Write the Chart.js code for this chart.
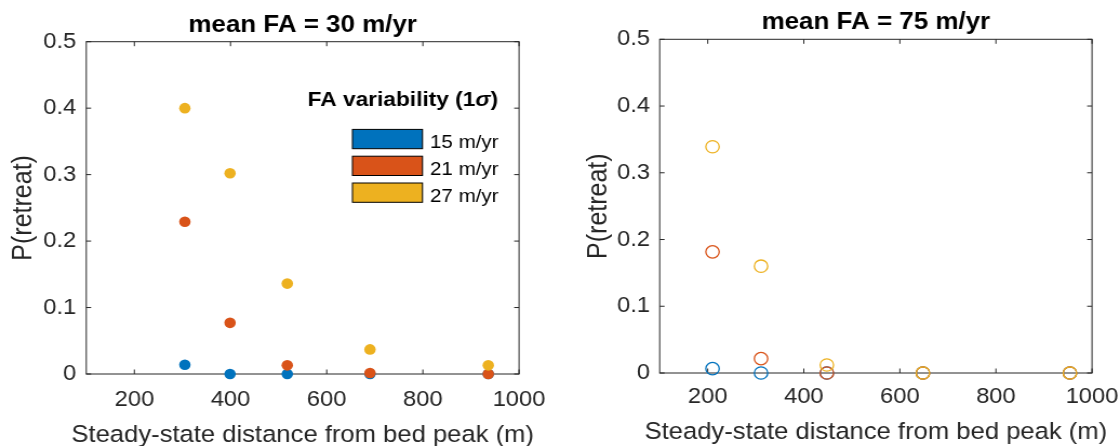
<!DOCTYPE html>
<html><head><meta charset="utf-8">
<script src="https://cdn.jsdelivr.net/npm/chart.js@4.4.1/dist/chart.umd.min.js"></script>
<style>
html,body{margin:0;padding:0;background:#fff;}
body{width:1120px;height:446px;position:relative;overflow:hidden;}
.panel{position:absolute;top:0;width:518px;height:446px;transform:scaleX(1.0811);transform-origin:0 0;}
</style></head><body>
<div class="panel" style="left:0"><canvas id="c1" width="518" height="446"></canvas></div>
<div class="panel" style="left:560px"><canvas id="c2" width="518" height="446"></canvas></div>
<script>
// ---- data ----
const seriesLabels = ['15 m/yr', '21 m/yr', '27 m/yr'];
const seriesColors = ['#0072BD', '#D95319', '#EDB120'];
const leftTitle = 'mean FA = 30 m/yr';
const rightTitle = 'mean FA = 75 m/yr';
const xAxisLabel = 'Steady-state distance from bed peak (m)';
const yAxisLabel = 'P(retreat)';
const legendTitleMain = 'FA variability (1';
const legendTitleSym = 'σ';
const legendTitleEnd = ')';
const xTicks = [200, 400, 600, 800, 1000];
const yTicks = [0, 0.1, 0.2, 0.3, 0.4, 0.5];
const xTickLabels = ['200', '400', '600', '800', '1000'];
const yTickLabels = ['0', '0.1', '0.2', '0.3', '0.4', '0.5'];
const xMin = 100, xMax = 1000, yMin = 0, yMax = 0.5;

const leftX = [305, 399, 518, 690, 936];
const left15 = [0.014, 0, 0, 0, 0];
const left21 = [0.229, 0.077, 0.013, 0.0015, 0];
const left27 = [0.400, 0.302, 0.136, 0.037, 0.013];

const rightX = [210, 311, 448, 648, 954];
const right15 = [0.0065, 0, 0, 0, 0];
const right21 = [0.1815, 0.0215, 0, 0, 0];
const right27 = [0.339, 0.160, 0.012, 0, 0];

// ---- styling ----
const FONT = '"Liberation Sans", Arial, Helvetica, sans-serif';
const TXT = '#262626';

function pts(xs, ys) { return xs.map((x, i) => ({x: x, y: ys[i]})); }

const framePlugin = {
  id: 'frame',
  beforeDatasetsDraw(chart) {
    const {ctx, chartArea: a, scales: {x, y}} = chart;
    ctx.save();
    ctx.strokeStyle = TXT; ctx.lineWidth = 1;
    ctx.strokeRect(a.left, a.top, a.right - a.left, a.bottom - a.top);
    ctx.beginPath();
    const tl = 4.5;
    xTicks.forEach(v => {
      const px = x.getPixelForValue(v);
      ctx.moveTo(px, a.bottom); ctx.lineTo(px, a.bottom - tl);
      ctx.moveTo(px, a.top); ctx.lineTo(px, a.top + tl);
    });
    yTicks.forEach(v => {
      const py = y.getPixelForValue(v);
      ctx.moveTo(a.left, py); ctx.lineTo(a.left + tl, py);
      ctx.moveTo(a.right, py); ctx.lineTo(a.right - tl, py);
    });
    ctx.stroke();
    ctx.restore();
  },
  afterDraw(chart) {
    const o = chart.options.plugins.frame;
    const {ctx, chartArea: a} = chart;
    const cx = (a.left + a.right) / 2, cy = (a.top + a.bottom) / 2;
    ctx.save();
    // panel title
    ctx.fillStyle = '#000';
    ctx.font = 'bold 24px ' + FONT;
    ctx.textAlign = 'center';
    ctx.textBaseline = 'alphabetic';
    ctx.fillText(o.title, cx, o.titleY);
    // axis titles
    ctx.fillStyle = TXT;
    ctx.font = '23.7px ' + FONT;
    ctx.fillText(xAxisLabel, cx, o.xLabelBase);
    ctx.save();
    ctx.translate(o.yLabelBase, cy);
    ctx.rotate(-Math.PI / 2);
    ctx.font = '25px ' + FONT;
    ctx.fillText(yAxisLabel, 0, 0);
    ctx.restore();
    if (o.legend) {
      const fMain = 'bold 21px ' + FONT;
      const fSym = 'italic bold 21px ' + FONT;
      ctx.fillStyle = '#000';
      ctx.font = fMain;
      const w1 = ctx.measureText(legendTitleMain).width;
      const w3 = ctx.measureText(legendTitleEnd).width;
      ctx.font = fSym;
      const w2 = ctx.measureText(legendTitleSym).width;
      const right = 460.7, base = 105.7;
      let xx = right - (w1 + w2 + w3);
      ctx.textAlign = 'left';
      ctx.font = fMain; ctx.fillText(legendTitleMain, xx, base); xx += w1;
      ctx.font = fSym; ctx.fillText(legendTitleSym, xx, base); xx += w2;
      ctx.font = fMain; ctx.fillText(legendTitleEnd, xx, base);
      const bx = 326, bw = 64.8, bh = 19.3;
      const tops = [129.4, 156.2, 183.0];
      ctx.font = '19px ' + FONT;
      ctx.lineWidth = 1; ctx.strokeStyle = '#000';
      seriesLabels.forEach((lab, i) => {
        ctx.fillStyle = seriesColors[i];
        ctx.fillRect(bx, tops[i], bw, bh);
        ctx.strokeRect(bx, tops[i], bw, bh);
        ctx.fillStyle = '#000';
        ctx.fillText(lab, 397.8, tops[i] + bh - 0.5);
      });
    }
    ctx.restore();
  }
};

function makeChart(id, xs, s15, s21, s27, cfg) {
  const datasets = [s15, s21, s27].map((s, i) => ({
    label: seriesLabels[i],
    data: pts(xs, s),
    order: 3 - i,
    clip: false,
    showLine: false,
    pointStyle: 'circle',
    pointRadius: cfg.radius,
    pointHoverRadius: cfg.radius,
    pointBackgroundColor: cfg.filled ? seriesColors[i] : 'rgba(0,0,0,0)',
    pointBorderColor: seriesColors[i],
    pointBorderWidth: cfg.filled ? 0 : 1.3,
    borderColor: seriesColors[i],
    backgroundColor: seriesColors[i]
  }));
  return new Chart(document.getElementById(id), {
    type: 'scatter',
    data: {datasets},
    plugins: [framePlugin],
    options: {
      responsive: false,
      animation: false,
      events: [],
      devicePixelRatio: 1,
      layout: {padding: {left: 0, top: cfg.top, right: 518 - cfg.right, bottom: 0}},
      plugins: {
        legend: {display: false},
        tooltip: {enabled: false},
        frame: {title: cfg.title, titleY: cfg.titleY, legend: cfg.legend,
                xLabelBase: cfg.xLabelBase, yLabelBase: cfg.yLabelBase}
      },
      scales: {
        x: {
          type: 'linear', position: 'bottom', min: xMin, max: xMax,
          grid: {display: false, drawTicks: false},
          border: {display: false},
          afterBuildTicks: s => { s.ticks = xTicks.map(v => ({value: v})); },
          afterFit: s => { s.height = cfg.xH; s.paddingLeft = s.paddingRight = s.paddingTop = s.paddingBottom = 0; },
          ticks: {
            padding: cfg.xTickPad, color: TXT, maxRotation: 0, autoSkip: false,
            font: {family: FONT, size: 22},
            callback: (v, i) => xTickLabels[i]
          },
          title: {display: false}
        },
        y: {
          type: 'linear', position: 'left', min: yMin, max: yMax,
          grid: {display: false, drawTicks: false},
          border: {display: false},
          afterBuildTicks: s => { s.ticks = yTicks.map(v => ({value: v})); },
          afterFit: s => { s.width = cfg.left; s.paddingLeft = s.paddingRight = s.paddingTop = s.paddingBottom = 0; },
          ticks: {
            padding: cfg.yTickPad, color: TXT, autoSkip: false,
            font: {family: FONT, size: 22},
            callback: (v, i) => yTickLabels[i]
          },
          title: {display: false}
        }
      }
    }
  });
}

makeChart('c1', leftX, left15, left21, left27, {
  left: 79.8, right: 480.1, top: 41.7, xH: 446 - 374,
  xTickPad: 12.8, yTickPad: 9.2,
  xLabelBase: 441.7, yLabelBase: 29.2,
  title: leftTitle, titleY: 32.3, legend: true, filled: true, radius: 5.3
});
makeChart('c2', rightX, right15, right21, right27, {
  left: 92.2, right: 492.1, top: 39.3, xH: 446 - 373,
  xTickPad: 10.8, yTickPad: 8.9,
  xLabelBase: 439.3, yLabelBase: 42.5,
  title: rightTitle, titleY: 29.3, legend: false, filled: false, radius: 6.2
});
</script>
</body></html>
